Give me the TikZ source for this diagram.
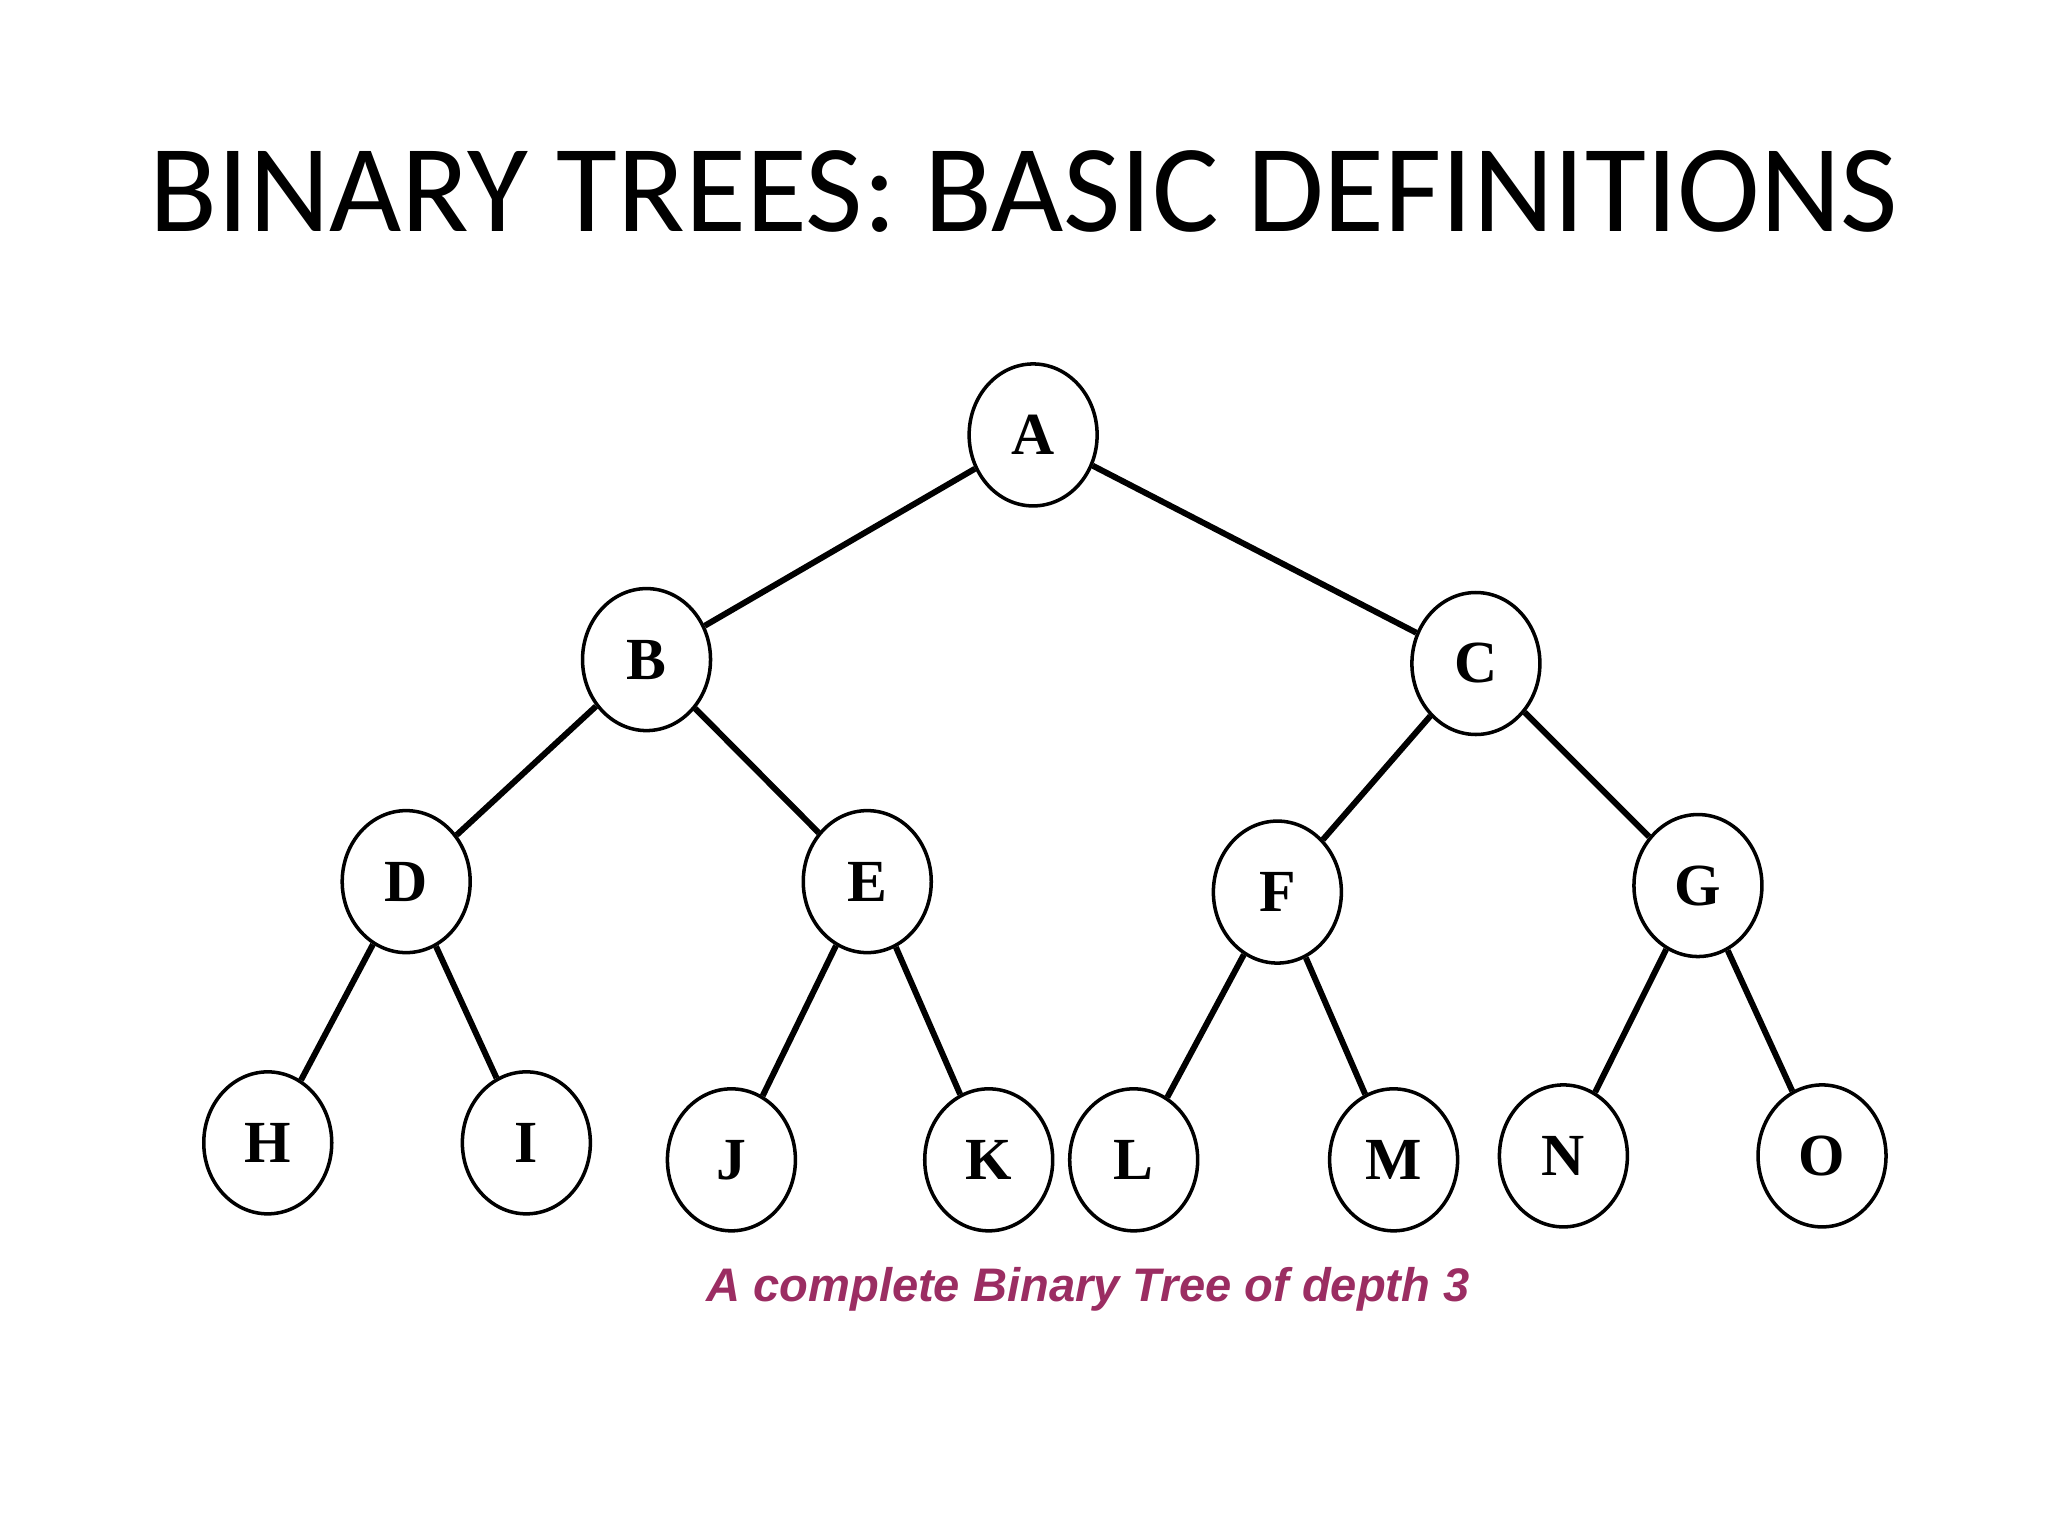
\documentclass[tikz,border=0pt]{standalone}
\usepackage{fontspec}
\setmainfont{Liberation Serif}
\newfontfamily\titlefont{Carlito}
\newfontfamily\capfont{Liberation Sans}
\usetikzlibrary{shapes.geometric}
\definecolor{capcol}{HTML}{9B2D62}
\begin{document}
\begin{tikzpicture}[x=0.013061cm,y=-0.013061cm,
  tn/.style={ellipse,draw,line width=1pt,minimum width=1.28cm,minimum height=1.42cm,inner sep=0pt,font=\bfseries\fontsize{17}{17}\selectfont},
  ed/.style={line width=1.7pt}]
\useasboundingbox (0,0) rectangle (1568,1176);
\node[font=\titlefont\fontsize{35.5}{35.5}\selectfont] (t) at (784,147) {BINARY TREES: BASIC DEFINITIONS};
\node[tn] (A) at (791,333) {A};
\node[tn] (B) at (495,505) {B};
\node[tn] (C) at (1130,508) {C};
\node[tn] (D) at (311,675) {D};
\node[tn] (E) at (664,675) {E};
\node[tn] (F) at (978,683) {F};
\node[tn] (G) at (1300,678) {G};
\node[tn] (H) at (205,875) {H};
\node[tn] (I) at (403,875) {I};
\node[tn] (J) at (560,888) {J};
\node[tn] (K) at (757,888) {K};
\node[tn] (L) at (868,888) {L};
\node[tn] (M) at (1067,888) {M};
\node[tn] (N) at (1197,885) {N};
\node[tn] (O) at (1395,885) {O};
\foreach \p/\c in {A/B,A/C,B/D,B/E,C/F,C/G,D/H,D/I,E/J,E/K,F/L,F/M,G/N,G/O}
  \draw[ed] (\p) -- (\c);
\node[font=\capfont\bfseries\itshape\fontsize{13.4}{13.4}\selectfont,text=capcol] (cap) at (833,987) {A complete Binary Tree of depth 3};
\end{tikzpicture}
\end{document}
